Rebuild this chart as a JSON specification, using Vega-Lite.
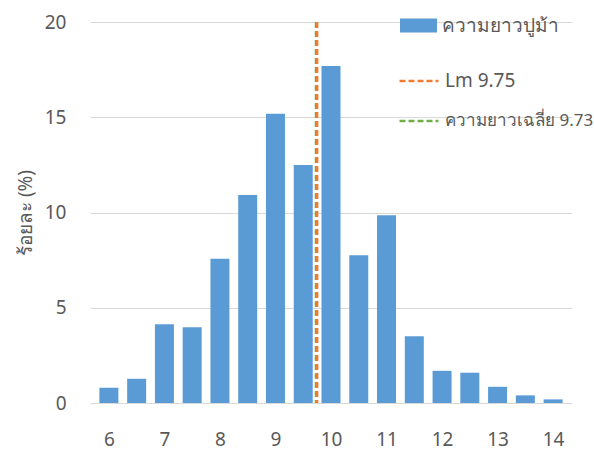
{
  "$schema": "https://vega.github.io/schema/vega-lite/v6.json",
  "width": 482,
  "height": 381,
  "autosize": {"type": "none"},
  "padding": {"left": 90, "top": 22, "right": 22, "bottom": 47},
  "background": "white",
  "config": {
    "view": {"stroke": null},
    "font": "Noto Sans",
    "axis": {"labelColor": "#595959", "titleColor": "#595959", "labelFont": "Noto Sans", "titleFont": "Noto Sans"},
    "legend": {"labelColor": "#595959", "labelFont": "Noto Sans"}
  },
  "layer": [
    {
      "data": {
        "values": [
          {"length": 6.0, "percent": 0.80},
          {"length": 6.5, "percent": 1.27},
          {"length": 7.0, "percent": 4.14},
          {"length": 7.5, "percent": 3.98},
          {"length": 8.0, "percent": 7.57},
          {"length": 8.5, "percent": 10.92},
          {"length": 9.0, "percent": 15.19},
          {"length": 9.5, "percent": 12.50},
          {"length": 10.0, "percent": 17.69},
          {"length": 10.5, "percent": 7.76},
          {"length": 11.0, "percent": 9.86},
          {"length": 11.5, "percent": 3.51},
          {"length": 12.0, "percent": 1.69},
          {"length": 12.5, "percent": 1.59},
          {"length": 13.0, "percent": 0.85},
          {"length": 13.5, "percent": 0.40},
          {"length": 14.0, "percent": 0.19}
        ]
      },
      "mark": {"type": "bar", "size": 19},
      "encoding": {
        "x": {
          "field": "length",
          "type": "quantitative",
          "scale": {"domain": [5.75, 14.25], "nice": false, "zero": false},
          "axis": {
            "title": null,
            "values": [6, 7, 8, 9, 10, 11, 12, 13, 14],
            "format": "d",
            "grid": false,
            "ticks": false,
            "domain": false,
            "labelFontSize": 19,
            "labelPadding": 27,
            "labelFlush": false
          }
        },
        "y": {
          "field": "percent",
          "type": "quantitative",
          "scale": {"domain": [0, 20], "nice": false},
          "axis": {
            "title": "ร้อยละ (%)",
            "values": [0, 5, 10, 15, 20],
            "ticks": false,
            "domain": false,
            "gridColor": "#d9d9d9",
            "labelFontSize": 19,
            "labelPadding": 24,
            "titleFontSize": 19,
            "titleFontWeight": "normal",
            "titlePadding": 9
          }
        },
        "fill": {
          "datum": "ความยาวปูม้า",
          "scale": {"range": ["#5B9BD5"]},
          "legend": {
            "title": null,
            "orient": "none",
            "legendX": 310,
            "legendY": -15,
            "symbolType": "M-1,-0.38H1V0.38H-1Z",
            "symbolSize": 1369,
            "symbolStrokeWidth": 0,
            "labelFontSize": 19,
            "labelOffset": 5,
            "labelLimit": 300
          }
        }
      }
    },
    {
      "data": {
        "values": [
          {"label": "Lm 9.75", "value": 9.75},
          {"label": "ความยาวเฉลี่ย 9.73", "value": 9.73}
        ]
      },
      "mark": {"type": "rule", "strokeWidth": 2.5, "strokeDash": [6, 3]},
      "encoding": {
        "x": {"field": "value", "type": "quantitative"},
        "stroke": {
          "field": "label",
          "type": "nominal",
          "sort": ["Lm 9.75", "ความยาวเฉลี่ย 9.73"],
          "scale": {"domain": ["Lm 9.75", "ความยาวเฉลี่ย 9.73"], "range": ["#ED7D31", "#70AD47"]},
          "legend": {
            "title": null,
            "orient": "none",
            "legendX": 308,
            "legendY": 38,
            "symbolType": "stroke",
            "symbolSize": 1521,
            "symbolStrokeWidth": 2.5,
            "symbolDash": [6, 3],
            "labelFontSize": 17,
            "labelOffset": 5,
            "labelLimit": 300,
            "rowPadding": 9,
            "encode": {
              "labels": {
                "update": {
                  "fontSize": [{"test": "datum.label === 'Lm 9.75'", "value": 19}, {"value": 17}]
                }
              }
            }
          }
        },
        "order": {"field": "value", "type": "quantitative"}
      }
    }
  ]
}
